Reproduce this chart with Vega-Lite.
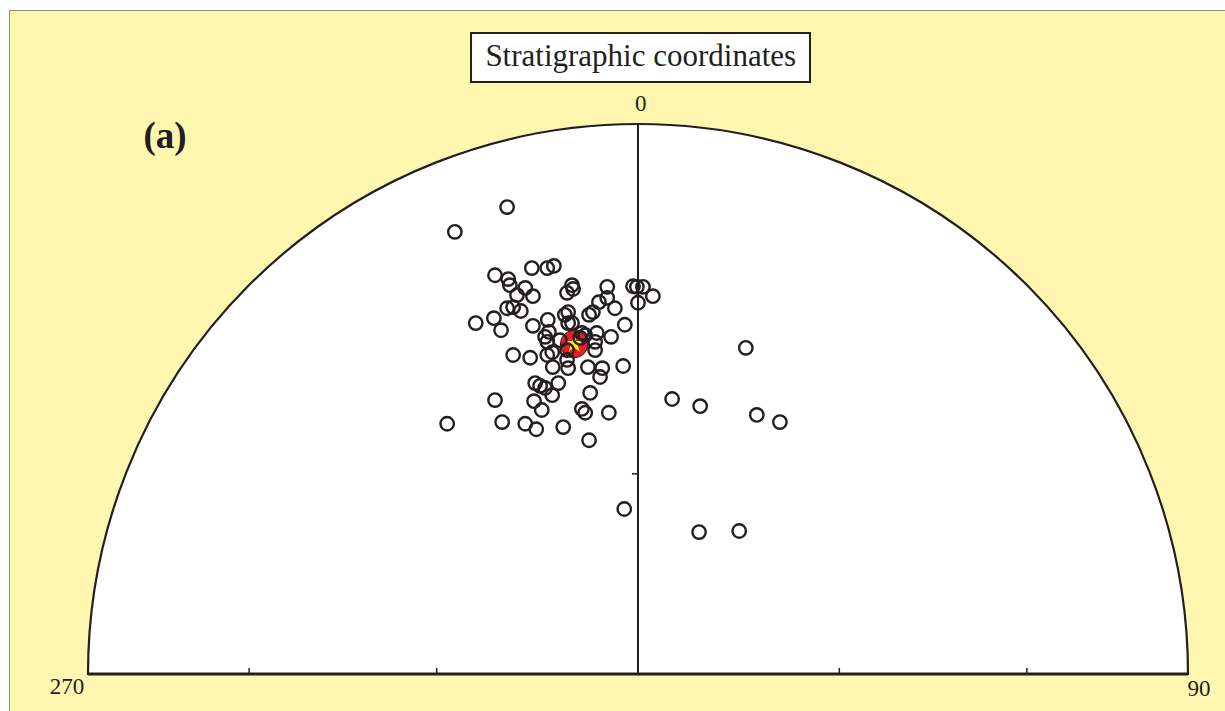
{
  "$schema": "https://vega.github.io/schema/vega-lite/v6.json",
  "width": 1216,
  "height": 701,
  "autosize": {"type": "none"},
  "padding": {"left": 9, "top": 10, "right": 0, "bottom": 0},
  "background": "white",
  "view": {"fill": "#fff6b0", "stroke": "#8a8a8a", "strokeWidth": 1},
  "datasets": {
    "points": [
      {"x": -0.238, "y": 0.849}, {"x": -0.333, "y": 0.804}, {"x": -0.193, "y": 0.738}, {"x": -0.165, "y": 0.738},
      {"x": -0.153, "y": 0.742}, {"x": -0.260, "y": 0.725}, {"x": -0.236, "y": 0.718}, {"x": -0.233, "y": 0.707},
      {"x": -0.205, "y": 0.702}, {"x": -0.191, "y": 0.687}, {"x": -0.220, "y": 0.689}, {"x": -0.238, "y": 0.665},
      {"x": -0.227, "y": 0.667}, {"x": -0.213, "y": 0.660}, {"x": -0.295, "y": 0.638}, {"x": -0.262, "y": 0.647},
      {"x": -0.249, "y": 0.625}, {"x": -0.191, "y": 0.633}, {"x": -0.162, "y": 0.622}, {"x": -0.165, "y": 0.604},
      {"x": -0.227, "y": 0.580}, {"x": -0.196, "y": 0.575}, {"x": -0.129, "y": 0.693}, {"x": -0.120, "y": 0.707},
      {"x": -0.118, "y": 0.700}, {"x": -0.056, "y": 0.704}, {"x": -0.071, "y": 0.676}, {"x": -0.056, "y": 0.684},
      {"x": -0.042, "y": 0.665}, {"x": -0.089, "y": 0.653}, {"x": -0.082, "y": 0.658}, {"x": -0.127, "y": 0.658},
      {"x": -0.127, "y": 0.638}, {"x": -0.009, "y": 0.705}, {"x": -0.002, "y": 0.704}, {"x": 0.009, "y": 0.704},
      {"x": 0.027, "y": 0.687}, {"x": 0.000, "y": 0.675}, {"x": -0.024, "y": 0.635}, {"x": -0.049, "y": 0.613},
      {"x": -0.075, "y": 0.620}, {"x": -0.156, "y": 0.585}, {"x": -0.129, "y": 0.589}, {"x": -0.105, "y": 0.611},
      {"x": -0.096, "y": 0.616}, {"x": -0.078, "y": 0.589}, {"x": -0.155, "y": 0.558}, {"x": -0.127, "y": 0.556},
      {"x": -0.091, "y": 0.558}, {"x": -0.065, "y": 0.556}, {"x": -0.069, "y": 0.540}, {"x": -0.027, "y": 0.560},
      {"x": -0.145, "y": 0.529}, {"x": -0.187, "y": 0.529}, {"x": -0.178, "y": 0.524}, {"x": -0.169, "y": 0.520},
      {"x": -0.156, "y": 0.507}, {"x": -0.087, "y": 0.511}, {"x": -0.260, "y": 0.498}, {"x": -0.189, "y": 0.496},
      {"x": -0.175, "y": 0.480}, {"x": -0.102, "y": 0.482}, {"x": -0.096, "y": 0.475}, {"x": -0.053, "y": 0.475},
      {"x": -0.347, "y": 0.455}, {"x": -0.247, "y": 0.458}, {"x": -0.205, "y": 0.455}, {"x": -0.185, "y": 0.445},
      {"x": -0.136, "y": 0.449}, {"x": -0.089, "y": 0.425}, {"x": 0.062, "y": 0.500}, {"x": 0.113, "y": 0.487},
      {"x": 0.196, "y": 0.593}, {"x": 0.216, "y": 0.471}, {"x": 0.258, "y": 0.458}, {"x": -0.025, "y": 0.300},
      {"x": 0.111, "y": 0.258}, {"x": 0.184, "y": 0.260}, {"x": -0.142, "y": 0.607}, {"x": -0.133, "y": 0.653},
      {"x": -0.164, "y": 0.644}, {"x": -0.120, "y": 0.638}, {"x": -0.102, "y": 0.620}, {"x": -0.078, "y": 0.604},
      {"x": -0.129, "y": 0.571}, {"x": -0.165, "y": 0.580}, {"x": -0.169, "y": 0.613}
    ],
    "mean": [{"x": -0.116, "y": 0.600}],
    "net": [{"x": 0, "y": 0, "xl": -1, "xr": 1}],
    "ticks": [
      {"x": -0.707, "y": 0, "x2": -0.707, "y2": 0.011},
      {"x": -0.366, "y": 0, "x2": -0.366, "y2": 0.011},
      {"x": 0.366, "y": 0, "x2": 0.366, "y2": 0.011},
      {"x": 0.707, "y": 0, "x2": 0.707, "y2": 0.011},
      {"x": -0.011, "y": 0.364, "x2": 0, "y2": 0.364}
    ],
    "axes": [
      {"x": 0, "y": 0, "x2": 0, "y2": 1}
    ],
    "labels": [
      {"label": "0", "x": 0.005, "y": 1.036},
      {"label": "270", "x": -1.038, "y": -0.024},
      {"label": "90", "x": 1.020, "y": -0.028}
    ],
    "panel": [{"label": "(a)", "x": -0.860, "y": 0.976}],
    "titlebox": [{"label": "Stratigraphic coordinates", "x": -0.3036, "x2": 0.3127, "y": 1.0764, "y2": 1.1655, "cx": 0.005, "cy": 1.122}]
  },
  "layer": [
    {
      "data": {"name": "net"},
      "mark": {"type": "arc", "theta": -1.5708, "theta2": 1.5708, "outerRadius": 550, "fill": "white", "stroke": "#231f20", "strokeWidth": 2.2},
      "encoding": {
        "x": {"field": "x", "type": "quantitative", "scale": {"domain": [-1.14364, 1.06727], "nice": false, "zero": false}, "axis": null},
        "y": {"field": "y", "type": "quantitative", "scale": {"domain": [-0.06727, 1.20727], "nice": false, "zero": false}, "axis": null}
      }
    },
    {
      "data": {"name": "axes"},
      "mark": {"type": "rule", "stroke": "#231f20", "strokeWidth": 2},
      "encoding": {
        "x": {"field": "x", "type": "quantitative", "scale": {"domain": [-1.14364, 1.06727], "nice": false, "zero": false}, "axis": null},
        "y": {"field": "y", "type": "quantitative", "scale": {"domain": [-0.06727, 1.20727], "nice": false, "zero": false}, "axis": null},
        "x2": {"field": "x2"},
        "y2": {"field": "y2"}
      }
    },
    {
      "data": {"name": "ticks"},
      "mark": {"type": "rule", "stroke": "#231f20", "strokeWidth": 1.5},
      "encoding": {
        "x": {"field": "x", "type": "quantitative", "scale": {"domain": [-1.14364, 1.06727], "nice": false, "zero": false}, "axis": null},
        "y": {"field": "y", "type": "quantitative", "scale": {"domain": [-0.06727, 1.20727], "nice": false, "zero": false}, "axis": null},
        "x2": {"field": "x2"},
        "y2": {"field": "y2"}
      }
    },
    {
      "data": {"name": "net"},
      "mark": {"type": "rule", "stroke": "#231f20", "strokeWidth": 3},
      "encoding": {
        "x": {"field": "xl", "type": "quantitative", "scale": {"domain": [-1.14364, 1.06727], "nice": false, "zero": false}, "axis": null},
        "x2": {"field": "xr"},
        "y": {"field": "y", "type": "quantitative", "scale": {"domain": [-0.06727, 1.20727], "nice": false, "zero": false}, "axis": null}
      }
    },
    {
      "data": {"name": "mean"},
      "mark": {"type": "point", "shape": "circle", "filled": true, "fill": "#ed1c24", "stroke": "#231f20", "strokeWidth": 1, "size": 760, "opacity": 1},
      "encoding": {
        "x": {"field": "x", "type": "quantitative", "scale": {"domain": [-1.14364, 1.06727], "nice": false, "zero": false}, "axis": null},
        "y": {"field": "y", "type": "quantitative", "scale": {"domain": [-0.06727, 1.20727], "nice": false, "zero": false}, "axis": null}
      }
    },
    {
      "data": {"name": "mean"},
      "mark": {"type": "point", "shape": "M0,-1L0.225,-0.309L0.951,-0.309L0.363,0.118L0.588,0.809L0,0.382L-0.588,0.809L-0.363,0.118L-0.951,-0.309L-0.225,-0.309Z", "filled": true, "fill": "#fff200", "strokeWidth": 0, "size": 360, "opacity": 1},
      "encoding": {
        "x": {"field": "x", "type": "quantitative", "scale": {"domain": [-1.14364, 1.06727], "nice": false, "zero": false}, "axis": null},
        "y": {"field": "y", "type": "quantitative", "scale": {"domain": [-0.06727, 1.20727], "nice": false, "zero": false}, "axis": null}
      }
    },
    {
      "data": {"name": "points"},
      "mark": {"type": "point", "shape": "circle", "filled": false, "stroke": "#231f20", "strokeWidth": 2.4, "size": 180, "opacity": 1},
      "encoding": {
        "x": {"field": "x", "type": "quantitative", "scale": {"domain": [-1.14364, 1.06727], "nice": false, "zero": false}, "axis": null},
        "y": {"field": "y", "type": "quantitative", "scale": {"domain": [-0.06727, 1.20727], "nice": false, "zero": false}, "axis": null}
      }
    },
    {
      "data": {"name": "labels"},
      "mark": {"type": "text", "font": "Liberation Serif", "fontSize": 23, "color": "#231f20", "align": "center", "baseline": "middle"},
      "encoding": {
        "x": {"field": "x", "type": "quantitative", "scale": {"domain": [-1.14364, 1.06727], "nice": false, "zero": false}, "axis": null},
        "y": {"field": "y", "type": "quantitative", "scale": {"domain": [-0.06727, 1.20727], "nice": false, "zero": false}, "axis": null},
        "text": {"field": "label"}
      }
    },
    {
      "data": {"name": "panel"},
      "mark": {"type": "text", "font": "Liberation Serif", "fontSize": 37, "fontWeight": "bold", "color": "#231f20", "align": "center", "baseline": "middle"},
      "encoding": {
        "x": {"field": "x", "type": "quantitative", "scale": {"domain": [-1.14364, 1.06727], "nice": false, "zero": false}, "axis": null},
        "y": {"field": "y", "type": "quantitative", "scale": {"domain": [-0.06727, 1.20727], "nice": false, "zero": false}, "axis": null},
        "text": {"field": "label"}
      }
    },
    {
      "data": {"name": "titlebox"},
      "mark": {"type": "rect", "fill": "white", "stroke": "#231f20", "strokeWidth": 2},
      "encoding": {
        "x": {"field": "x", "type": "quantitative", "scale": {"domain": [-1.14364, 1.06727], "nice": false, "zero": false}, "axis": null},
        "y": {"field": "y", "type": "quantitative", "scale": {"domain": [-0.06727, 1.20727], "nice": false, "zero": false}, "axis": null},
        "x2": {"field": "x2"},
        "y2": {"field": "y2"}
      }
    },
    {
      "data": {"name": "titlebox"},
      "mark": {"type": "text", "font": "Liberation Serif", "fontSize": 31, "color": "#231f20", "align": "center", "baseline": "middle"},
      "encoding": {
        "x": {"field": "cx", "type": "quantitative", "scale": {"domain": [-1.14364, 1.06727], "nice": false, "zero": false}, "axis": null},
        "y": {"field": "cy", "type": "quantitative", "scale": {"domain": [-0.06727, 1.20727], "nice": false, "zero": false}, "axis": null},
        "text": {"field": "label"}
      }
    }
  ]
}
